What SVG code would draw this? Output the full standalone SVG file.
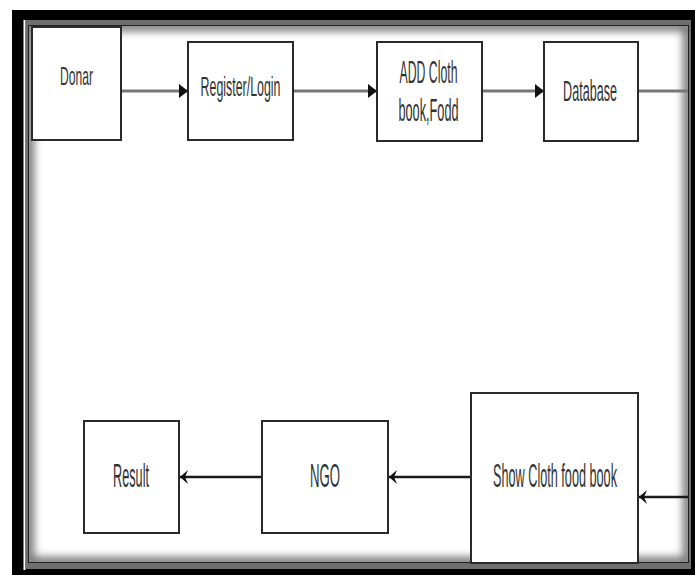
<svg xmlns="http://www.w3.org/2000/svg" width="695" height="575" viewBox="0 0 695 575">
  <defs>
    <style>
      .box { fill: #ffffff; stroke: #2a2a2a; stroke-width: 2; }
      .lbl { font-family: "Liberation Sans", Arial, sans-serif; fill: #333333; text-anchor: middle; }
      .ctop { stroke: #777777; stroke-width: 3; fill: none; }
      .cbot { stroke: #1a1a1a; stroke-width: 2.5; fill: none; }
    </style>
    <marker id="tri" markerWidth="12" markerHeight="16" refX="10" refY="8" orient="auto" markerUnits="userSpaceOnUse">
      <path d="M1,1 L10,8 L1,15 Z" fill="#111111"/>
    </marker>
    <marker id="classic" markerWidth="10" markerHeight="16" refX="9" refY="8" orient="auto" markerUnits="userSpaceOnUse">
      <path d="M9,8 L1,1 L4,8 L1,15 Z" fill="#111111"/>
    </marker>
    <clipPath id="inner">
      <rect x="29" y="26" width="659" height="536"/>
    </clipPath>
    <filter id="blur" x="-10%" y="-10%" width="120%" height="120%">
      <feGaussianBlur stdDeviation="4"/>
    </filter>
  </defs>

  <!-- frame -->
  <rect x="0" y="0" width="695" height="575" fill="#ffffff"/>
  <rect x="12" y="10" width="683" height="565" fill="#000000"/>
  <rect x="26" y="20" width="665" height="549" fill="#6e6e6e"/>
  <rect x="28" y="25" width="661" height="538" fill="#222222"/>
  <rect x="29" y="26" width="659" height="536" fill="#ffffff"/>
  <g clip-path="url(#inner)">
    <rect x="29" y="26" width="659" height="536" fill="none" stroke="#000000" stroke-width="10" opacity="0.55" filter="url(#blur)"/>
  </g>
  <line x1="24.5" y1="20" x2="24.5" y2="570" stroke="#ffffff" stroke-width="2"/>

  <!-- connectors -->
  <g id="connectors">
    <line class="ctop" x1="121" y1="91" x2="188" y2="91" marker-end="url(#tri)"/>
    <line class="ctop" x1="293" y1="91" x2="377" y2="91" marker-end="url(#tri)"/>
    <line class="ctop" x1="482" y1="91" x2="544" y2="91" marker-end="url(#tri)"/>
    <line class="ctop" x1="638" y1="91" x2="688" y2="91"/>
    <line class="cbot" x1="688" y1="497" x2="639" y2="497" marker-end="url(#classic)"/>
    <line class="cbot" x1="471" y1="477" x2="389" y2="477" marker-end="url(#classic)"/>
    <line class="cbot" x1="262" y1="477" x2="180" y2="477" marker-end="url(#classic)"/>
  </g>

  <!-- nodes -->
  <g id="donar">
    <rect class="box" x="32" y="27" width="89" height="113"/>
    <text class="lbl" transform="translate(76.5,85) scale(0.466,1)" font-size="26">Donar</text>
  </g>
  <g id="register">
    <rect class="box" x="188" y="42" width="105" height="98"/>
    <text class="lbl" transform="translate(240.5,96) scale(0.443,1)" font-size="28">Register/Login</text>
  </g>
  <g id="add">
    <rect class="box" x="377" y="42" width="105" height="99"/>
    <text class="lbl" transform="translate(428.5,83) scale(0.396,1)" font-size="31">ADD Cloth</text>
    <text class="lbl" transform="translate(428.5,121) scale(0.41,1)" font-size="31">book,Fodd</text>
  </g>
  <g id="database">
    <rect class="box" x="544" y="42" width="94" height="99"/>
    <text class="lbl" transform="translate(590,101) scale(0.42,1)" font-size="30">Database</text>
  </g>
  <g id="show">
    <rect class="box" x="471" y="393" width="167" height="170"/>
    <text class="lbl" transform="translate(555,487) scale(0.384,1)" font-size="33">Show Cloth food book</text>
  </g>
  <g id="ngo">
    <rect class="box" x="262" y="421" width="126" height="112"/>
    <text class="lbl" transform="translate(325,487) scale(0.4,1)" font-size="33">NGO</text>
  </g>
  <g id="result">
    <rect class="box" x="84" y="421" width="95" height="112"/>
    <text class="lbl" transform="translate(131,487) scale(0.385,1)" font-size="33">Result</text>
  </g>
</svg>
